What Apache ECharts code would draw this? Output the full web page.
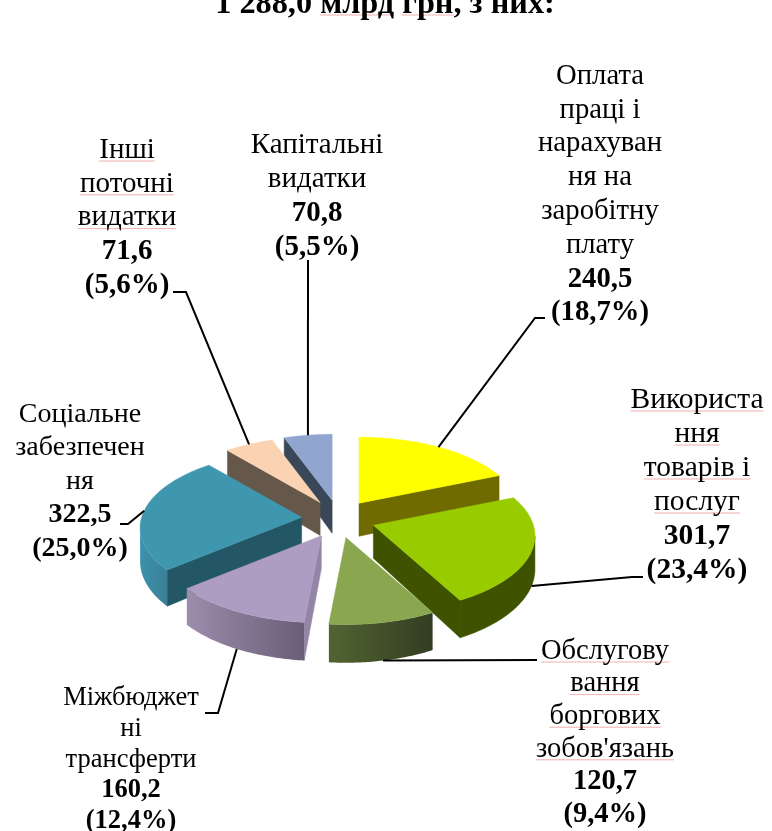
<!DOCTYPE html>
<html><head><meta charset="utf-8">
<style>html,body{margin:0;padding:0;background:#fff}#c{width:772px;height:831px}</style>
<script src="https://cdn.jsdelivr.net/npm/echarts@6/dist/echarts.min.js"></script>
</head><body><div id="c"></div>
<script>
// ---- data ----
const categoryLines = [
  ['Оплата','праці і','нарахуван','ня на','заробітну','плату'],
  ['Використа','ння','товарів і','послуг'],
  ['Обслугову','вання','боргових',"зобов'язань"],
  ['Міжбюджет','ні','трансферти'],
  ['Соціальне','забезпечен','ня'],
  ['Інші','поточні','видатки'],
  ['Капітальні','видатки']
];
const values = [240.5, 301.7, 120.7, 160.2, 322.5, 71.6, 70.8];
const shares = [18.7, 23.4, 9.4, 12.4, 25.0, 5.6, 5.5];
const titleText = '1 288,0 млрд грн, з них:';

// ---- styles ----
const topColors  = ['#ffff00','#99cc00','#8aa64f','#ae9dc2','#3f97af','#fbd3b2','#90a6cf'];
const wallColors = ['#6f6b00','#3f5200','#4f6030','#9484a6','#235766','#65574a','#3a4759'];
const rimColors  = [null,'#3f5200',['#526433','#333d22'],['#9c8dac','#695e76'],['#3c92ab','#3a7f97'],null,null];

// ---- layout ----
const FONT = '"Liberation Serif","Times New Roman",serif';
const labelCenterX   = [600, 697, 605, 131, 80, 127, 317];
const labelFirstLine = [84, 408, 659, 705, 422, 158, 153];
const labelLineStep  = [33.8, 34, 32.6, 30.8, 33.5, 33.8, 34];
const labelFontSize  = [28.7, 29.5, 28.5, 26.5, 28, 29, 29];
const labelSpell     = [false, true, true, false, false, true, false];
const leaderRoutes = [
  [[535,318],[545,318]],
  [[632,577],[643,577]],
  [[537,660]],
  [[218,713],[205,713]],
  [[128,524],[120,524]],
  [[186,292],[173,292]],
  [[308,260]]
];
const CX = 338.5, CY = 519, EX = 37, EY = 19;   // pie centre, explosion
const RX = 160, RY = 75, PERSP = 0.137, DEPTH = 33;

const total = values.reduce((a,b)=>a+b,0);
const fmt = v => v.toFixed(1).replace('.',',');
const TAU = Math.PI*2;

const angles = []; {
  let acc = 0;
  values.forEach(v => { angles.push([acc/total*TAU,(acc+v)/total*TAU]); acc += v; });
}
function scaleAt(th){ return 1/(1 + PERSP*Math.cos(th)); }
function rimOffset(th){
  const s = scaleAt(th);
  return [RX*Math.sin(th)*s, -RY*Math.cos(th)*s];
}
function apexOf(i){
  const m = (angles[i][0]+angles[i][1])/2;
  return [CX + EX*Math.sin(m), CY - EY*Math.cos(m)];
}
function rimPoint(i, th){
  const a = apexOf(i), o = rimOffset(th);
  return [a[0]+o[0], a[1]+o[1]];
}
const drawRank = values.map((_,i)=>i).sort((p,q)=>apexOf(p)[1]-apexOf(q)[1]);

const measure = document.createElement('canvas').getContext('2d');
function textWidth(t,font){ measure.font = font; return measure.measureText(t).width; }
function txt(t, x, baseline, size, bold, z2){
  return { type:'text', z2, silent:true, style:{
    text:t, x, y: baseline-0.3375*size+2, fill:'#000',
    font:(bold?'bold ':'')+size+'px '+FONT, textAlign:'center', textVerticalAlign:'middle'
  }};
}
function spell(x0,x1,y,z2){
  return { type:'line', z2, silent:true, shape:{x1:x0,y1:y,x2:x1,y2:y}, style:{stroke:'#f2aeae',lineWidth:1} };
}
function wallPoly(p,q,hp,hq){ return [p,q,[q[0],q[1]+hq],[p[0],p[1]+hp]]; }

function renderSlice(params){
  const i = params.dataIndex;
  const [a0,a1] = angles[i];
  const base = drawRank.indexOf(i)*10 + 10;
  const apex = apexOf(i);
  const children = [];
  const H0 = DEPTH;
  const poly = (pts,fill,z)=>({type:'polygon',z2:z,silent:true,shape:{points:pts},style:{fill,stroke:typeof fill==='string'?fill:null,lineWidth:typeof fill==='string'?0.5:0}});
  // radial walls
  const ps = rimPoint(i,a0), pe = rimPoint(i,a1);
  if (ps[0]-apex[0] < -0.5) children.push(poly(wallPoly(apex,ps,H0,DEPTH*scaleAt(a0)),wallColors[i],base));
  if (pe[0]-apex[0] >  0.5) children.push(poly(wallPoly(apex,pe,H0,DEPTH*scaleAt(a1)),wallColors[i],base));
  // visible rim
  const silL = Math.acos(-PERSP), silR = TAU-silL;
  const r0 = Math.max(a0,silL), r1 = Math.min(a1,silR);
  if (r1>r0){
    const up=[],dn=[];
    for(let k=0;k<=48;k++){
      const th=r0+(r1-r0)*k/48, p=rimPoint(i,th);
      up.push(p); dn.unshift([p[0],p[1]+DEPTH*scaleAt(th)]);
    }
    const c = rimColors[i];
    const fill = Array.isArray(c) ? new echarts.graphic.LinearGradient(0,0,1,0,[{offset:0,color:c[0]},{offset:1,color:c[1]}]) : c;
    children.push(poly(up.concat(dn),fill,base+1));
  }
  // top face
  const top=[apex];
  for(let k=0;k<=64;k++) top.push(rimPoint(i,a0+(a1-a0)*k/64));
  children.push(poly(top,topColors[i],base+2));

  // leader
  const m=(a0+a1)/2, an=rimPoint(i,m);
  if (Math.cos(m)<0) an[1]+=DEPTH*scaleAt(m);
  children.push({type:'polyline',z2:200,silent:true,shape:{points:[an].concat(leaderRoutes[i])},style:{stroke:'#000',lineWidth:2,fill:null}});

  // label
  const size=labelFontSize[i], cx=labelCenterX[i];
  let y=labelFirstLine[i];
  categoryLines[i].forEach(line=>{
    children.push(txt(line,cx,y,size,false,210));
    if(labelSpell[i]){
      const w=textWidth(line,size+'px '+FONT);
      children.push(spell(cx-w/2,cx+w/2,y+3,205));
    }
    y+=labelLineStep[i];
  });
  children.push(txt(fmt(values[i]),cx,y,size,true,210)); y+=labelLineStep[i];
  children.push(txt('('+fmt(shares[i])+'%)',cx,y,size,true,210));
  return {type:'group',children};
}

const chart = echarts.init(document.getElementById('c'),null,{renderer:'canvas'});
chart.setOption({
  animation:false,
  backgroundColor:'#fff',
  title:{text:titleText,left:380,top:-17,textAlign:'center',
    textStyle:{fontFamily:FONT,fontWeight:'bold',fontSize:32.3,color:'#000',lineHeight:34}},
  graphic:[
    {type:'line',shape:{x1:320,y1:15,x2:393,y2:15},style:{stroke:'#f2aeae',lineWidth:1},silent:true},
    {type:'line',shape:{x1:402,y1:15,x2:454,y2:15},style:{stroke:'#f2aeae',lineWidth:1},silent:true}
  ],
  series:[{type:'custom',coordinateSystem:'none',silent:true,clip:false,
    data:values,renderItem:renderSlice}]
});
</script></body></html>
